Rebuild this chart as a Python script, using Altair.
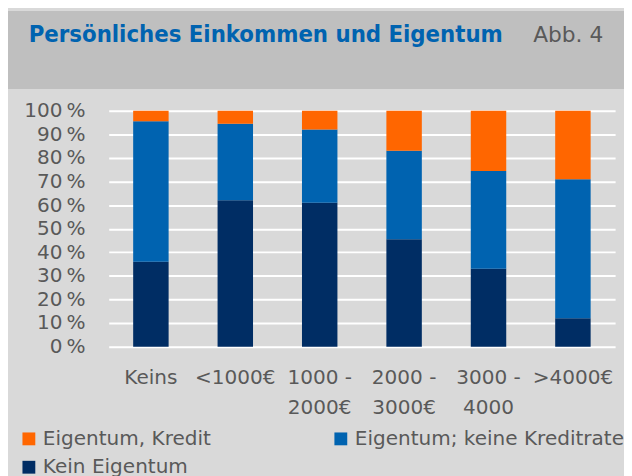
import altair as alt
import pandas as pd

# ---- data ----
categories = ["Keins", "<1000€", "1000 -\n2000€", "2000 -\n3000€", "3000 -\n4000", ">4000€"]
# legend order (filled column by column): Kredit, Kein Eigentum | keine Kreditrate
series = ["Eigentum, Kredit", "Kein Eigentum", "Eigentum; keine Kreditrate"]
kein_eigentum = [36, 62, 61, 45.5, 33, 12]
eigentum_ohne_kredit = [59.5, 32.5, 31, 37.5, 41.5, 59]
eigentum_kredit = [4.5, 5.5, 8, 17, 25.5, 29]
colors = ["#FF6600", "#002D64", "#0063B0"]
title_text = "Persönliches Einkommen  und Eigentum"
fig_text = "Abb. 4"
y_ticks = [0, 10, 20, 30, 40, 50, 60, 70, 80, 90, 100]

FONT = "DejaVu Sans"
TFONT = "DejaVu Sans Condensed"
GREY = "#595959"

rows = []
for i, c in enumerate(categories):
    rows.append({"cat": c, "series": "Kein Eigentum", "value": kein_eigentum[i], "ord": 0})
    rows.append({"cat": c, "series": "Eigentum; keine Kreditrate", "value": eigentum_ohne_kredit[i], "ord": 1})
    rows.append({"cat": c, "series": "Eigentum, Kredit", "value": eigentum_kredit[i], "ord": 2})
df = pd.DataFrame(rows)

W, H = 513, 239

bars = alt.Chart(df).mark_bar().encode(
    x=alt.X(
        "cat:N", sort=categories, title=None,
        scale=alt.Scale(paddingInner=0.58, paddingOuter=0.29),
        axis=alt.Axis(labelAngle=0, labelExpr="split(datum.label, '\\n')",
                      labelFont=FONT, labelFontSize=20.3, labelColor=GREY,
                      labelPadding=31, labelLineHeight=31, ticks=False, domain=False,
                      labelBaseline="middle"),
    ),
    y=alt.Y(
        "value:Q", stack="zero", title=None,
        scale=alt.Scale(domain=[0, 100], nice=False),
        axis=alt.Axis(values=y_ticks, labelExpr="datum.value + '\u2009%'",
                      labelFont=FONT, labelFontSize=20.3, labelColor=GREY,
                      labelPadding=24, ticks=False, domain=False,
                      grid=True, gridColor="white", gridWidth=2),
    ),
    color=alt.Color(
        "series:N", scale=alt.Scale(domain=series, range=colors),
        legend=alt.Legend(title=None, orient="none", legendX=-91, legendY=322,
                          columns=2, columnPadding=121, rowPadding=8,
                          symbolType="square", symbolSize=169, symbolStrokeWidth=0,
                          labelFont=FONT, labelFontSize=20.3, labelColor=GREY,
                          labelOffset=4, padding=0, labelLimit=400),
    ),
    order=alt.Order("ord:Q"),
)

band = alt.Chart(pd.DataFrame({"k": [0]})).mark_rect(color="#BFBFBF").encode(
    x=alt.value(-102), x2=alt.value(540), y=alt.value(-101), y2=alt.value(-22)
)

title = alt.Chart(pd.DataFrame({"t": [title_text]})).mark_text(
    align="left", baseline="middle", font=TFONT, fontSize=24, fontWeight="bold", color="#0063B0"
).encode(x=alt.value(-81), y=alt.value(-77), text="t:N")

fig = alt.Chart(pd.DataFrame({"t": [fig_text]})).mark_text(
    align="left", baseline="middle", font=FONT, fontSize=22, color=GREY
).encode(x=alt.value(430), y=alt.value(-77), text="t:N")

chart = alt.layer(band, bars, title, fig).properties(
    width=W, height=H,
    background="#D9D9D9",
    autosize=alt.AutoSizeParams(type="none"),
    padding={"left": 102, "top": 101, "right": 9, "bottom": 130},
).configure_view(stroke=None)

chart.save("out.html", embed_options={"renderer": "svg", "actions": False})
